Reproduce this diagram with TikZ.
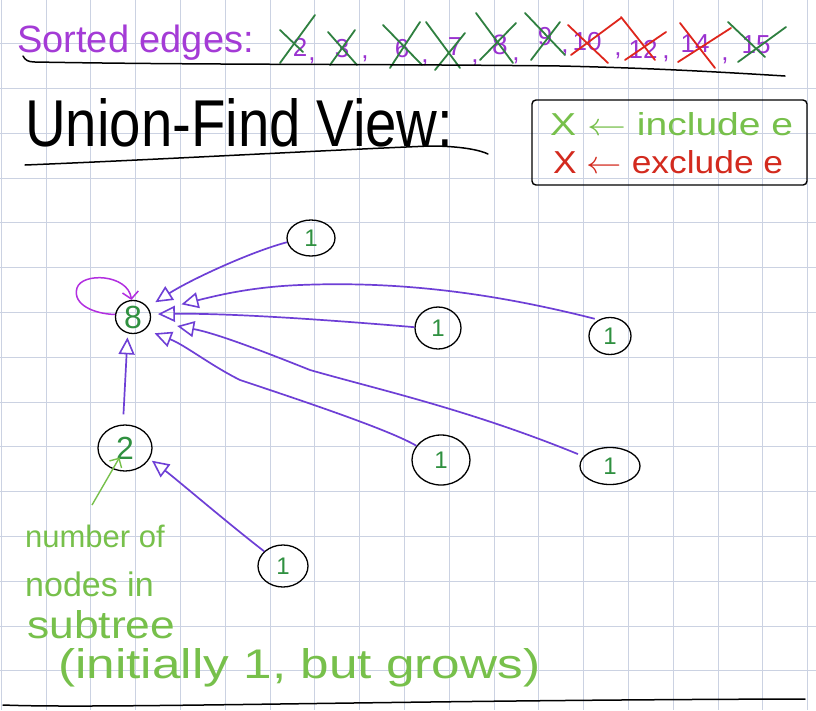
\documentclass[tikz,border=0pt]{standalone}
\usepackage{fontspec}
\setmainfont{Liberation Sans}
\usepackage{graphicx}
\usetikzlibrary{shapes.geometric,arrows.meta}
\definecolor{gridc}{HTML}{CBD2E2}
\definecolor{edgepurple}{HTML}{6E3FD6}
\definecolor{loopmag}{HTML}{B22FE0}
\definecolor{titlepurple}{HTML}{A43BD6}
\definecolor{numpurple}{HTML}{9A32D0}
\definecolor{crossgreen}{HTML}{2F8040}
\definecolor{crossred}{HTML}{DE261C}
\definecolor{nodegreen}{HTML}{2F9040}
\definecolor{notegreen}{HTML}{77C04B}
\definecolor{legred}{HTML}{D32A1E}
\begin{document}
\begin{tikzpicture}[x=1pt,y=-1pt,
  gridline/.style={draw=gridc, line width=0.8pt},
  ufnode/.style={ellipse, draw=black, line width=1.3pt, inner sep=0pt, text=nodegreen, font=\fontsize{24}{24}\selectfont},
  ufedge/.style={draw=edgepurple, line width=1.7pt, -{Triangle[open, length=17pt, width=16pt, line width=1.6pt]}},
  selfloop/.style={draw=loopmag, line width=1.5pt, -{Straight Barb[length=7pt, width=16pt]}},
  notearrow/.style={draw=notegreen, line width=1.4pt, -{Straight Barb[length=7pt, width=14pt]}},
  crossg/.style={draw=crossgreen, line width=1.8pt, line cap=round},
  crossr/.style={draw=crossred, line width=1.8pt, line cap=round},
  numtxt/.style={text=numpurple, font=\fontsize{26}{26}\selectfont, inner sep=0pt, anchor=base},
  notetxt/.style={text=notegreen, inner sep=0pt, anchor=base west},
  penline/.style={draw=black, line width=1.5pt, line cap=round}
]
\useasboundingbox (0,0) rectangle (816,710);
\fill[white] (0,0) rectangle (816,710);
% grid
\foreach \i in {0,...,18} \draw[gridline] ({1.2+44.8*\i},0) -- ({1.2+44.8*\i},710);
\foreach \j in {1,...,16} \draw[gridline] (0,{-1.2+44.8*\j}) -- (816,{-1.2+44.8*\j});

% sorted edges line
\node[text=titlepurple, font=\fontsize{38}{38}\selectfont, inner sep=0pt, anchor=base west] (sorted) at (17,52) {Sorted edges:};
\node[numtxt] (e2) at (300,56) {2};
\node[numtxt] (c2) at (312,60) {,};
\node[numtxt] (e3) at (342,57) {3};
\node[numtxt] (c3) at (365,58) {,};
\node[numtxt] (e6) at (402,57) {6};
\node[numtxt] (c6) at (425,62) {,};
\node[numtxt] (e7) at (455,55) {7};
\node[numtxt] (c7) at (475,62) {,};
\node[numtxt, font=\fontsize{28}{28}\selectfont] (e8) at (500,54) {8};
\node[numtxt] (c8) at (516,60) {,};
\node[numtxt] (e9) at (545,45) {9};
\node[numtxt] (c9) at (565,52) {,};
\node[numtxt] (e10) at (587,50) {10};
\node[numtxt] (c10) at (618,55) {,};
\node[numtxt] (e12) at (643,58) {12};
\node[numtxt] (c12) at (666,58) {,};
\node[numtxt] (e14) at (695,52) {14};
\node[numtxt] (c14) at (725,60) {,};
\node[numtxt] (e15) at (756,53) {15};
% crosses
\draw[crossg] (280,30) -- (303,52); \draw[crossg] (315,15) -- (280,63);
\draw[crossg] (328,32) -- (357,65); \draw[crossg] (355,30) -- (330,65);
\draw[crossg] (383,25) -- (422,65); \draw[crossg] (420,22) -- (390,68);
\draw[crossg] (426,22) -- (460,68); \draw[crossg] (465,33) -- (435,70);
\draw[crossg] (476,13) -- (513,63); \draw[crossg] (516,23) -- (480,60);
\draw[crossg] (525,13) -- (565,55); \draw[crossg] (560,22) -- (531,60);
\draw[crossr] (568,25) -- (608,63); \draw[crossr] (621,18) -- (571,55);
\draw[crossr] (625,60) -- (666,32); \draw[crossr] (621,17) -- (655,60);
\draw[crossr] (680,23) -- (715,68); \draw[crossr] (731,28) -- (678,62);
\draw[crossg] (728,22) -- (765,57); \draw[crossg] (786,27) -- (738,62);
% underline of sorted edges
\draw[penline] (23,56) .. controls (25,60) and (28,62) .. (35,62) .. controls (200,65) and (400,64) .. (560,66) .. controls (650,68) and (720,72) .. (785,76);

% title
\node[inner sep=0pt, anchor=base west] (title) at (25,146) {\resizebox{428pt}{48pt}{Union-Find View:}};
\draw[penline] (25,165) .. controls (150,160) and (330,150) .. (430,146) .. controls (460,146) and (480,150) .. (488,154);

% legend
\draw[draw=black, line width=1.4pt, rounded corners=4pt] (532,100) rectangle (807,185);
\node[text=notegreen, inner sep=0pt, anchor=base west] (leg1) at (550,135) {\resizebox{243pt}{23pt}{X $\leftarrow$ include e}};
\node[text=legred, inner sep=0pt, anchor=base west] (leg2) at (553,173) {\resizebox{230pt}{23pt}{X $\leftarrow$ exclude e}};

% union-find nodes
\node[ufnode, minimum width=35pt, minimum height=33pt, font=\fontsize{32}{32}\selectfont] (n8) at (133,317) {8};
\node[ufnode, minimum width=54pt, minimum height=46pt, font=\fontsize{32}{32}\selectfont] (n2) at (125,448) {2};
\node[ufnode, minimum width=48pt, minimum height=36pt] (na) at (311,238) {1};
\node[ufnode, minimum width=46pt, minimum height=42pt] (nb) at (438,328) {1};
\node[ufnode, minimum width=42pt, minimum height=37pt] (nc) at (610,336) {1};
\node[ufnode, minimum width=58pt, minimum height=50pt] (nd) at (441,460) {1};
\node[ufnode, minimum width=60pt, minimum height=37pt] (ne) at (610,466) {1};
\node[ufnode, minimum width=50pt, minimum height=42pt] (nf) at (283,566) {1};

% edges
\draw[ufedge, shorten >=9pt] (na.190) .. controls (250,252) and (190,280) .. (n8.34);
\draw[ufedge, shorten <=4pt, shorten >=32pt] (nc.125) .. controls (520,300) and (420,280) .. (300,285) .. controls (250,287) and (215,296) .. (n8.16);
\draw[ufedge, shorten >=7pt] (nb.178) .. controls (330,320) and (230,313) .. (n8.9);
\draw[ufedge, shorten <=6pt, shorten >=27pt] (ne.160) .. controls (470,410) and (380,390) .. (310,370) .. controls (260,350) and (215,333) .. (n8.-13);
\draw[ufedge, shorten >=10pt] (nd.150) .. controls (390,430) and (300,400) .. (240,380) .. controls (210,365) and (185,345) .. (n8.-46);
\draw[ufedge, shorten <=10pt, shorten >=4pt] (n2.95) -- (n8.252);
\draw[ufedge, shorten >=3pt] (nf.142) .. controls (230,525) and (175,478) .. (n2.-24);
\draw[selfloop] (n8.172) .. controls (95,314) and (72,305) .. (77,288) .. controls (82,272) and (128,274) .. (n8.95);

% note
\node[notetxt, font=\fontsize{31}{31}\selectfont] (note1) at (25,547) {number of};
\node[notetxt, font=\fontsize{34}{34}\selectfont] (note2) at (25,596) {nodes in};
\node[notetxt] (note3) at (27,638) {\resizebox{148pt}{28pt}{subtree}};
\node[notetxt] (note4) at (58,678) {\resizebox{482pt}{30pt}{(initially 1, but grows)}};
\coordinate (ptr) at (92,505);
\draw[notearrow, shorten >=11pt] (ptr) -- (n2.center);

% bottom line
\draw[penline] (3,705) .. controls (100,709) and (400,700) .. (805,699);
\end{tikzpicture}
\end{document}
